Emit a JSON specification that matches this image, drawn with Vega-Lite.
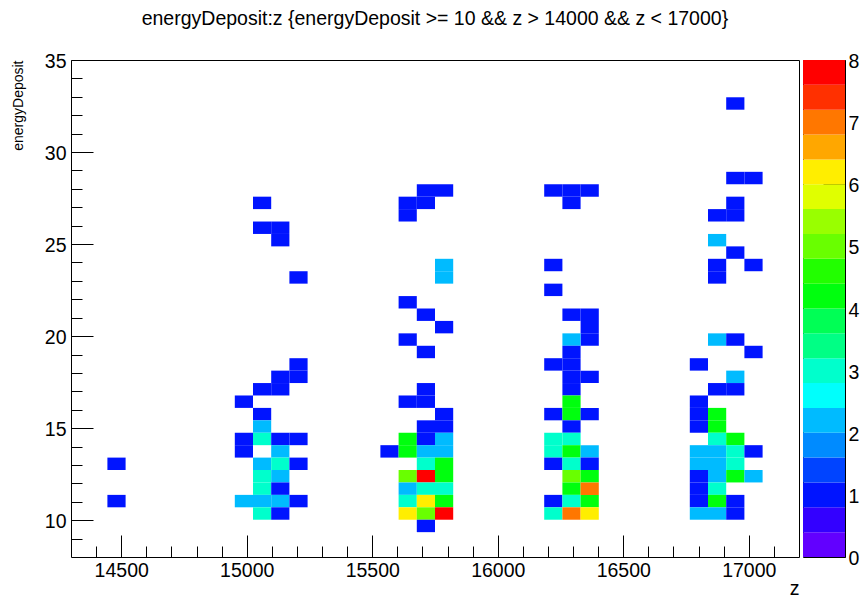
{
  "$schema": "https://vega.github.io/schema/vega-lite/v6.json",
  "background": "white",
  "padding": {"left": 10, "top": 8, "right": 0, "bottom": 0},
  "bounds": "flush",
  "spacing": 4,
  "title": {"text": "energyDeposit:z {energyDeposit >= 10 && z > 14000 && z < 17000}", "font": "Liberation Sans", "fontSize": 19.5, "fontWeight": "normal", "color": "black", "anchor": "middle", "offset": 22, "dx": 0},
  "config": {
    "view": {"stroke": "black", "strokeWidth": 1},
    "font": "Liberation Sans",
    "axis": {"grid": false, "domain": false, "tickColor": "black", "tickWidth": 1, "labelColor": "black", "labelFont": "Liberation Sans", "labelFontSize": 19.5, "titleColor": "black", "titleFont": "Liberation Sans", "titleFontWeight": "normal"}
  },
  "datasets": {
    "cells": [
      {"z_lo":14445,"z_hi":14517.5,"e_lo":10.7,"e_hi":11.375,"entries":1},
      {"z_lo":14445,"z_hi":14517.5,"e_lo":12.725,"e_hi":13.4,"entries":1},
      {"z_lo":15025,"z_hi":15097.5,"e_lo":26.9,"e_hi":27.575,"entries":1},
      {"z_lo":15025,"z_hi":15097.5,"e_lo":25.55,"e_hi":26.225,"entries":1},
      {"z_lo":15097.5,"z_hi":15170,"e_lo":25.55,"e_hi":26.225,"entries":1},
      {"z_lo":15097.5,"z_hi":15170,"e_lo":24.875,"e_hi":25.55,"entries":1},
      {"z_lo":15170,"z_hi":15242.5,"e_lo":22.85,"e_hi":23.525,"entries":1},
      {"z_lo":15170,"z_hi":15242.5,"e_lo":18.125,"e_hi":18.8,"entries":1},
      {"z_lo":15170,"z_hi":15242.5,"e_lo":17.45,"e_hi":18.125,"entries":1},
      {"z_lo":15097.5,"z_hi":15170,"e_lo":17.45,"e_hi":18.125,"entries":1},
      {"z_lo":15097.5,"z_hi":15170,"e_lo":16.775,"e_hi":17.45,"entries":1},
      {"z_lo":15025,"z_hi":15097.5,"e_lo":16.775,"e_hi":17.45,"entries":1},
      {"z_lo":14952.5,"z_hi":15025,"e_lo":16.1,"e_hi":16.775,"entries":1},
      {"z_lo":15025,"z_hi":15097.5,"e_lo":15.425,"e_hi":16.1,"entries":1},
      {"z_lo":15025,"z_hi":15097.5,"e_lo":14.75,"e_hi":15.425,"entries":2},
      {"z_lo":14952.5,"z_hi":15025,"e_lo":14.075,"e_hi":14.75,"entries":1},
      {"z_lo":15025,"z_hi":15097.5,"e_lo":14.075,"e_hi":14.75,"entries":3},
      {"z_lo":15097.5,"z_hi":15170,"e_lo":14.075,"e_hi":14.75,"entries":1},
      {"z_lo":15170,"z_hi":15242.5,"e_lo":14.075,"e_hi":14.75,"entries":1},
      {"z_lo":14952.5,"z_hi":15025,"e_lo":13.4,"e_hi":14.075,"entries":1},
      {"z_lo":15097.5,"z_hi":15170,"e_lo":13.4,"e_hi":14.075,"entries":2},
      {"z_lo":15025,"z_hi":15097.5,"e_lo":12.725,"e_hi":13.4,"entries":2},
      {"z_lo":15097.5,"z_hi":15170,"e_lo":12.725,"e_hi":13.4,"entries":3},
      {"z_lo":15170,"z_hi":15242.5,"e_lo":12.725,"e_hi":13.4,"entries":1},
      {"z_lo":15025,"z_hi":15097.5,"e_lo":12.05,"e_hi":12.725,"entries":3},
      {"z_lo":15097.5,"z_hi":15170,"e_lo":12.05,"e_hi":12.725,"entries":2},
      {"z_lo":15025,"z_hi":15097.5,"e_lo":11.375,"e_hi":12.05,"entries":3},
      {"z_lo":15097.5,"z_hi":15170,"e_lo":11.375,"e_hi":12.05,"entries":1},
      {"z_lo":14952.5,"z_hi":15025,"e_lo":10.7,"e_hi":11.375,"entries":2},
      {"z_lo":15025,"z_hi":15097.5,"e_lo":10.7,"e_hi":11.375,"entries":2},
      {"z_lo":15097.5,"z_hi":15170,"e_lo":10.7,"e_hi":11.375,"entries":2},
      {"z_lo":15170,"z_hi":15242.5,"e_lo":10.7,"e_hi":11.375,"entries":1},
      {"z_lo":15025,"z_hi":15097.5,"e_lo":10.025,"e_hi":10.7,"entries":3},
      {"z_lo":15097.5,"z_hi":15170,"e_lo":10.025,"e_hi":10.7,"entries":1},
      {"z_lo":15677.5,"z_hi":15750,"e_lo":27.575,"e_hi":28.25,"entries":1},
      {"z_lo":15750,"z_hi":15822.5,"e_lo":27.575,"e_hi":28.25,"entries":1},
      {"z_lo":15605,"z_hi":15677.5,"e_lo":26.9,"e_hi":27.575,"entries":1},
      {"z_lo":15677.5,"z_hi":15750,"e_lo":26.9,"e_hi":27.575,"entries":1},
      {"z_lo":15605,"z_hi":15677.5,"e_lo":26.225,"e_hi":26.9,"entries":1},
      {"z_lo":15750,"z_hi":15822.5,"e_lo":23.525,"e_hi":24.2,"entries":2},
      {"z_lo":15750,"z_hi":15822.5,"e_lo":22.85,"e_hi":23.525,"entries":2},
      {"z_lo":15605,"z_hi":15677.5,"e_lo":21.5,"e_hi":22.175,"entries":1},
      {"z_lo":15677.5,"z_hi":15750,"e_lo":20.825,"e_hi":21.5,"entries":1},
      {"z_lo":15750,"z_hi":15822.5,"e_lo":20.15,"e_hi":20.825,"entries":1},
      {"z_lo":15605,"z_hi":15677.5,"e_lo":19.475,"e_hi":20.15,"entries":1},
      {"z_lo":15677.5,"z_hi":15750,"e_lo":18.8,"e_hi":19.475,"entries":1},
      {"z_lo":15677.5,"z_hi":15750,"e_lo":16.775,"e_hi":17.45,"entries":1},
      {"z_lo":15605,"z_hi":15677.5,"e_lo":16.1,"e_hi":16.775,"entries":1},
      {"z_lo":15677.5,"z_hi":15750,"e_lo":16.1,"e_hi":16.775,"entries":1},
      {"z_lo":15750,"z_hi":15822.5,"e_lo":15.425,"e_hi":16.1,"entries":1},
      {"z_lo":15677.5,"z_hi":15750,"e_lo":14.75,"e_hi":15.425,"entries":1},
      {"z_lo":15750,"z_hi":15822.5,"e_lo":14.75,"e_hi":15.425,"entries":1},
      {"z_lo":15605,"z_hi":15677.5,"e_lo":14.075,"e_hi":14.75,"entries":4},
      {"z_lo":15677.5,"z_hi":15750,"e_lo":14.075,"e_hi":14.75,"entries":1},
      {"z_lo":15750,"z_hi":15822.5,"e_lo":14.075,"e_hi":14.75,"entries":2},
      {"z_lo":15532.5,"z_hi":15605,"e_lo":13.4,"e_hi":14.075,"entries":1},
      {"z_lo":15605,"z_hi":15677.5,"e_lo":13.4,"e_hi":14.075,"entries":4},
      {"z_lo":15677.5,"z_hi":15750,"e_lo":13.4,"e_hi":14.075,"entries":2},
      {"z_lo":15750,"z_hi":15822.5,"e_lo":13.4,"e_hi":14.075,"entries":2},
      {"z_lo":15677.5,"z_hi":15750,"e_lo":12.725,"e_hi":13.4,"entries":3},
      {"z_lo":15750,"z_hi":15822.5,"e_lo":12.725,"e_hi":13.4,"entries":4},
      {"z_lo":15605,"z_hi":15677.5,"e_lo":12.05,"e_hi":12.725,"entries":5},
      {"z_lo":15677.5,"z_hi":15750,"e_lo":12.05,"e_hi":12.725,"entries":8},
      {"z_lo":15750,"z_hi":15822.5,"e_lo":12.05,"e_hi":12.725,"entries":4},
      {"z_lo":15605,"z_hi":15677.5,"e_lo":11.375,"e_hi":12.05,"entries":2},
      {"z_lo":15677.5,"z_hi":15750,"e_lo":11.375,"e_hi":12.05,"entries":3},
      {"z_lo":15750,"z_hi":15822.5,"e_lo":11.375,"e_hi":12.05,"entries":3},
      {"z_lo":15605,"z_hi":15677.5,"e_lo":10.7,"e_hi":11.375,"entries":3},
      {"z_lo":15677.5,"z_hi":15750,"e_lo":10.7,"e_hi":11.375,"entries":6},
      {"z_lo":15750,"z_hi":15822.5,"e_lo":10.7,"e_hi":11.375,"entries":4},
      {"z_lo":15605,"z_hi":15677.5,"e_lo":10.025,"e_hi":10.7,"entries":6},
      {"z_lo":15677.5,"z_hi":15750,"e_lo":10.025,"e_hi":10.7,"entries":5},
      {"z_lo":15750,"z_hi":15822.5,"e_lo":10.025,"e_hi":10.7,"entries":8},
      {"z_lo":15677.5,"z_hi":15750,"e_lo":9.35,"e_hi":10.025,"entries":1},
      {"z_lo":16185,"z_hi":16257.5,"e_lo":27.575,"e_hi":28.25,"entries":1},
      {"z_lo":16257.5,"z_hi":16330,"e_lo":27.575,"e_hi":28.25,"entries":1},
      {"z_lo":16330,"z_hi":16402.5,"e_lo":27.575,"e_hi":28.25,"entries":1},
      {"z_lo":16257.5,"z_hi":16330,"e_lo":26.9,"e_hi":27.575,"entries":1},
      {"z_lo":16185,"z_hi":16257.5,"e_lo":23.525,"e_hi":24.2,"entries":1},
      {"z_lo":16185,"z_hi":16257.5,"e_lo":22.175,"e_hi":22.85,"entries":1},
      {"z_lo":16257.5,"z_hi":16330,"e_lo":20.825,"e_hi":21.5,"entries":1},
      {"z_lo":16330,"z_hi":16402.5,"e_lo":20.825,"e_hi":21.5,"entries":1},
      {"z_lo":16330,"z_hi":16402.5,"e_lo":20.15,"e_hi":20.825,"entries":1},
      {"z_lo":16330,"z_hi":16402.5,"e_lo":19.475,"e_hi":20.15,"entries":1},
      {"z_lo":16257.5,"z_hi":16330,"e_lo":19.475,"e_hi":20.15,"entries":2},
      {"z_lo":16257.5,"z_hi":16330,"e_lo":18.8,"e_hi":19.475,"entries":1},
      {"z_lo":16185,"z_hi":16257.5,"e_lo":18.125,"e_hi":18.8,"entries":1},
      {"z_lo":16257.5,"z_hi":16330,"e_lo":18.125,"e_hi":18.8,"entries":1},
      {"z_lo":16257.5,"z_hi":16330,"e_lo":17.45,"e_hi":18.125,"entries":1},
      {"z_lo":16330,"z_hi":16402.5,"e_lo":17.45,"e_hi":18.125,"entries":1},
      {"z_lo":16257.5,"z_hi":16330,"e_lo":16.775,"e_hi":17.45,"entries":1},
      {"z_lo":16257.5,"z_hi":16330,"e_lo":16.1,"e_hi":16.775,"entries":4},
      {"z_lo":16185,"z_hi":16257.5,"e_lo":15.425,"e_hi":16.1,"entries":1},
      {"z_lo":16257.5,"z_hi":16330,"e_lo":15.425,"e_hi":16.1,"entries":4},
      {"z_lo":16330,"z_hi":16402.5,"e_lo":15.425,"e_hi":16.1,"entries":1},
      {"z_lo":16257.5,"z_hi":16330,"e_lo":14.75,"e_hi":15.425,"entries":1},
      {"z_lo":16185,"z_hi":16257.5,"e_lo":14.075,"e_hi":14.75,"entries":3},
      {"z_lo":16257.5,"z_hi":16330,"e_lo":14.075,"e_hi":14.75,"entries":3},
      {"z_lo":16185,"z_hi":16257.5,"e_lo":13.4,"e_hi":14.075,"entries":3},
      {"z_lo":16257.5,"z_hi":16330,"e_lo":13.4,"e_hi":14.075,"entries":4},
      {"z_lo":16330,"z_hi":16402.5,"e_lo":13.4,"e_hi":14.075,"entries":2},
      {"z_lo":16185,"z_hi":16257.5,"e_lo":12.725,"e_hi":13.4,"entries":1},
      {"z_lo":16257.5,"z_hi":16330,"e_lo":12.725,"e_hi":13.4,"entries":3},
      {"z_lo":16330,"z_hi":16402.5,"e_lo":12.725,"e_hi":13.4,"entries":1},
      {"z_lo":16257.5,"z_hi":16330,"e_lo":12.05,"e_hi":12.725,"entries":5},
      {"z_lo":16330,"z_hi":16402.5,"e_lo":12.05,"e_hi":12.725,"entries":4},
      {"z_lo":16257.5,"z_hi":16330,"e_lo":11.375,"e_hi":12.05,"entries":4},
      {"z_lo":16330,"z_hi":16402.5,"e_lo":11.375,"e_hi":12.05,"entries":7},
      {"z_lo":16185,"z_hi":16257.5,"e_lo":10.7,"e_hi":11.375,"entries":1},
      {"z_lo":16257.5,"z_hi":16330,"e_lo":10.7,"e_hi":11.375,"entries":3},
      {"z_lo":16330,"z_hi":16402.5,"e_lo":10.7,"e_hi":11.375,"entries":4},
      {"z_lo":16185,"z_hi":16257.5,"e_lo":10.025,"e_hi":10.7,"entries":3},
      {"z_lo":16257.5,"z_hi":16330,"e_lo":10.025,"e_hi":10.7,"entries":7},
      {"z_lo":16330,"z_hi":16402.5,"e_lo":10.025,"e_hi":10.7,"entries":6},
      {"z_lo":16910,"z_hi":16982.5,"e_lo":32.3,"e_hi":32.975,"entries":1},
      {"z_lo":16910,"z_hi":16982.5,"e_lo":28.25,"e_hi":28.925,"entries":1},
      {"z_lo":16982.5,"z_hi":17055,"e_lo":28.25,"e_hi":28.925,"entries":1},
      {"z_lo":16910,"z_hi":16982.5,"e_lo":26.9,"e_hi":27.575,"entries":1},
      {"z_lo":16837.5,"z_hi":16910,"e_lo":26.225,"e_hi":26.9,"entries":1},
      {"z_lo":16910,"z_hi":16982.5,"e_lo":26.225,"e_hi":26.9,"entries":1},
      {"z_lo":16837.5,"z_hi":16910,"e_lo":24.875,"e_hi":25.55,"entries":2},
      {"z_lo":16910,"z_hi":16982.5,"e_lo":24.2,"e_hi":24.875,"entries":1},
      {"z_lo":16982.5,"z_hi":17055,"e_lo":23.525,"e_hi":24.2,"entries":1},
      {"z_lo":16837.5,"z_hi":16910,"e_lo":23.525,"e_hi":24.2,"entries":1},
      {"z_lo":16837.5,"z_hi":16910,"e_lo":22.85,"e_hi":23.525,"entries":1},
      {"z_lo":16837.5,"z_hi":16910,"e_lo":19.475,"e_hi":20.15,"entries":2},
      {"z_lo":16910,"z_hi":16982.5,"e_lo":19.475,"e_hi":20.15,"entries":1},
      {"z_lo":16982.5,"z_hi":17055,"e_lo":18.8,"e_hi":19.475,"entries":1},
      {"z_lo":16765,"z_hi":16837.5,"e_lo":18.125,"e_hi":18.8,"entries":1},
      {"z_lo":16910,"z_hi":16982.5,"e_lo":17.45,"e_hi":18.125,"entries":2},
      {"z_lo":16837.5,"z_hi":16910,"e_lo":16.775,"e_hi":17.45,"entries":1},
      {"z_lo":16910,"z_hi":16982.5,"e_lo":16.775,"e_hi":17.45,"entries":1},
      {"z_lo":16765,"z_hi":16837.5,"e_lo":16.1,"e_hi":16.775,"entries":1},
      {"z_lo":16765,"z_hi":16837.5,"e_lo":15.425,"e_hi":16.1,"entries":1},
      {"z_lo":16765,"z_hi":16837.5,"e_lo":14.75,"e_hi":15.425,"entries":1},
      {"z_lo":16837.5,"z_hi":16910,"e_lo":15.425,"e_hi":16.1,"entries":4},
      {"z_lo":16837.5,"z_hi":16910,"e_lo":14.75,"e_hi":15.425,"entries":4},
      {"z_lo":16837.5,"z_hi":16910,"e_lo":14.075,"e_hi":14.75,"entries":3},
      {"z_lo":16910,"z_hi":16982.5,"e_lo":14.075,"e_hi":14.75,"entries":4},
      {"z_lo":16765,"z_hi":16837.5,"e_lo":13.4,"e_hi":14.075,"entries":2},
      {"z_lo":16837.5,"z_hi":16910,"e_lo":13.4,"e_hi":14.075,"entries":2},
      {"z_lo":16910,"z_hi":16982.5,"e_lo":13.4,"e_hi":14.075,"entries":3},
      {"z_lo":16982.5,"z_hi":17055,"e_lo":13.4,"e_hi":14.075,"entries":1},
      {"z_lo":16765,"z_hi":16837.5,"e_lo":12.725,"e_hi":13.4,"entries":2},
      {"z_lo":16837.5,"z_hi":16910,"e_lo":12.725,"e_hi":13.4,"entries":2},
      {"z_lo":16910,"z_hi":16982.5,"e_lo":12.725,"e_hi":13.4,"entries":3},
      {"z_lo":16765,"z_hi":16837.5,"e_lo":12.05,"e_hi":12.725,"entries":1},
      {"z_lo":16837.5,"z_hi":16910,"e_lo":12.05,"e_hi":12.725,"entries":2},
      {"z_lo":16910,"z_hi":16982.5,"e_lo":12.05,"e_hi":12.725,"entries":4},
      {"z_lo":16982.5,"z_hi":17055,"e_lo":12.05,"e_hi":12.725,"entries":2},
      {"z_lo":16765,"z_hi":16837.5,"e_lo":11.375,"e_hi":12.05,"entries":1},
      {"z_lo":16837.5,"z_hi":16910,"e_lo":11.375,"e_hi":12.05,"entries":3},
      {"z_lo":16765,"z_hi":16837.5,"e_lo":10.7,"e_hi":11.375,"entries":1},
      {"z_lo":16837.5,"z_hi":16910,"e_lo":10.7,"e_hi":11.375,"entries":4},
      {"z_lo":16910,"z_hi":16982.5,"e_lo":10.7,"e_hi":11.375,"entries":1},
      {"z_lo":16765,"z_hi":16837.5,"e_lo":10.025,"e_hi":10.7,"entries":2},
      {"z_lo":16837.5,"z_hi":16910,"e_lo":10.025,"e_hi":10.7,"entries":2},
      {"z_lo":16910,"z_hi":16982.5,"e_lo":10.025,"e_hi":10.7,"entries":1}
    ],
    "bands": [
      {"lo":0,"hi":0.4},{"lo":0.4,"hi":0.8},{"lo":0.8,"hi":1.2},{"lo":1.2,"hi":1.6},{"lo":1.6,"hi":2},
      {"lo":2,"hi":2.4},{"lo":2.4,"hi":2.8},{"lo":2.8,"hi":3.2},{"lo":3.2,"hi":3.6},{"lo":3.6,"hi":4},
      {"lo":4,"hi":4.4},{"lo":4.4,"hi":4.8},{"lo":4.8,"hi":5.2},{"lo":5.2,"hi":5.6},{"lo":5.6,"hi":6},
      {"lo":6,"hi":6.4},{"lo":6.4,"hi":6.8},{"lo":6.8,"hi":7.2},{"lo":7.2,"hi":7.6},{"lo":7.6,"hi":8}
    ]
  },
  "hconcat": [
    {
      "width": 728,
      "height": 497,
      "data": {"name": "cells"},
      "layer": [
        {
          "mark": {"type": "rect", "strokeWidth": 0},
          "encoding": {
            "x": {"field": "z_lo", "type": "quantitative", "scale": {"domain": [14300, 17200], "nice": false, "zero": false},
                  "axis": {"orient": "bottom", "values": [14500, 15000, 15500, 16000, 16500, 17000], "format": "d", "offset": -22, "tickSize": 22, "labelPadding": 4.5,
                           "title": "z", "titleFontSize": 19.5, "titleX": 728, "titleY": 59, "titleAlign": "right", "titleBaseline": "alphabetic", "titleAngle": 0}},
            "x2": {"field": "z_hi"},
            "y": {"field": "e_lo", "type": "quantitative", "scale": {"domain": [8, 35], "nice": false, "zero": false},
                  "axis": {"orient": "left", "values": [10, 15, 20, 25, 30, 35], "format": "d", "offset": -22, "tickSize": 22, "labelPadding": 5, "labelOffset": 1.5,
                           "title": "energyDeposit", "titleFontSize": 14, "titleAnchor": "end", "titleX": -71, "titleAngle": 270, "titleBaseline": "alphabetic"}},
            "y2": {"field": "e_hi"},
            "color": {"field": "entries", "type": "quantitative",
                      "scale": {"type": "quantize", "domain": [0, 8], "range": ["#6200FF", "#3300FF", "#0014FF", "#0044FF", "#008BFF", "#00BBFF", "#00FFFC", "#00FFCC", "#00FF85", "#00FF55", "#00FF0E", "#22FF00", "#69FF00", "#99FF00", "#E0FF00", "#FFEE00", "#FFA700", "#FF7700", "#FF3000", "#FF0000"]},
                      "legend": null}
          }
        },
        {
          "mark": {"type": "point", "opacity": 0},
          "encoding": {
            "x": {"field": "z_lo", "type": "quantitative",
                  "axis": {"orient": "bottom", "values": [14400, 14500, 14600, 14700, 14800, 14900, 15000, 15100, 15200, 15300, 15400, 15500, 15600, 15700, 15800, 15900, 16000, 16100, 16200, 16300, 16400, 16500, 16600, 16700, 16800, 16900, 17000, 17100],
                           "offset": -11, "tickSize": 11, "labels": false, "title": null}},
            "y": {"field": "e_lo", "type": "quantitative",
                  "axis": {"orient": "left", "values": [9, 10, 11, 12, 13, 14, 15, 16, 17, 18, 19, 20, 21, 22, 23, 24, 25, 26, 27, 28, 29, 30, 31, 32, 33, 34],
                           "offset": -11, "tickSize": 11, "labels": false, "title": null}}
          }
        }
      ],
      "resolve": {"axis": {"x": "independent", "y": "independent"}}
    },
    {
      "width": 42,
      "height": 497,
      "data": {"name": "bands"},
      "mark": {"type": "rect", "strokeWidth": 0},
      "encoding": {
        "y": {"field": "lo", "type": "quantitative", "scale": {"domain": [0, 8], "nice": false, "zero": false},
              "axis": {"orient": "right", "values": [0, 1, 2, 3, 4, 5, 6, 7, 8], "format": "d", "offset": -22, "tickSize": 22, "labelPadding": 3, "labelOffset": 1.5, "title": null}},
        "y2": {"field": "hi"},
        "color": {"field": "lo", "type": "quantitative",
                  "scale": {"type": "quantize", "domain": [0, 8], "range": ["#6200FF", "#3300FF", "#0014FF", "#0044FF", "#008BFF", "#00BBFF", "#00FFFC", "#00FFCC", "#00FF85", "#00FF55", "#00FF0E", "#22FF00", "#69FF00", "#99FF00", "#E0FF00", "#FFEE00", "#FFA700", "#FF7700", "#FF3000", "#FF0000"]},
                  "legend": null}
      }
    }
  ]
}
